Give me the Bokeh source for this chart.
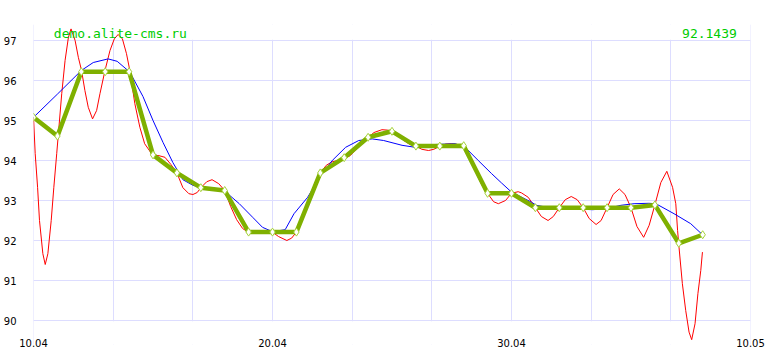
from bokeh.plotting import figure
from bokeh.models import Range1d, FixedTicker, BoxAnnotation, Label
from bokeh.embed import file_html
from bokeh.resources import INLINE

# ---- data (days counted from 10.04) ----
day = list(range(29))
price = [95.08, 94.61, 96.22, 96.22, 96.22, 94.14, 93.69, 93.32, 93.25, 92.21,
         92.21, 92.21, 93.69, 94.07, 94.58, 94.73, 94.36, 94.36, 94.37, 93.18,
         93.18, 92.82, 92.82, 92.82, 92.82, 92.82, 92.89, 91.93, 92.1439]

red_day = [0.0, 0.07, 0.17, 0.25, 0.39, 0.49, 0.6, 0.74, 0.85, 0.97, 1.04, 1.18, 1.32,
           1.46, 1.57, 1.74, 1.875, 2.01, 2.15, 2.29, 2.47, 2.64, 2.78, 2.99, 3.2, 3.38,
           3.54, 3.72, 3.89, 4.03, 4.24, 4.45, 4.65, 4.93, 5.0, 5.25, 5.5, 5.75, 6.0,
           6.25, 6.5, 6.67, 6.85, 7.0, 7.25, 7.47, 7.75, 8.0, 8.25, 8.5, 8.75, 9.0, 9.25,
           9.5, 9.75, 10.0, 10.25, 10.6, 10.8, 11.0, 11.25, 11.5, 11.75, 12.0, 12.25,
           12.5, 12.75, 13.0, 13.25, 13.5, 13.75, 14.0, 14.25, 14.58, 14.8, 15.0, 15.25,
           15.5, 15.75, 16.0, 16.25, 16.53, 16.75, 17.0, 17.25, 17.5, 17.75, 18.0, 18.25,
           18.5, 18.75, 19.0, 19.25, 19.45, 19.75, 20.0, 20.28, 20.42, 20.7, 21.0, 21.25,
           21.53, 21.75, 22.0, 22.25, 22.5, 22.75, 23.0, 23.25, 23.54, 23.75, 24.0, 24.25,
           24.51, 24.75, 25.0, 25.25, 25.53, 25.76, 26.0, 26.25, 26.5, 26.74, 26.875,
           26.95, 27.01, 27.15, 27.29, 27.43, 27.54, 27.68, 27.8, 27.92, 27.99]
red_val = [95.08, 94.17, 93.33, 92.5, 91.67, 91.4, 91.67, 92.5, 93.33, 94.17, 94.67, 95.67,
           96.5, 97.08, 97.29, 97.0, 96.58, 96.25, 95.75, 95.33, 95.04, 95.25, 95.67, 96.25,
           96.75, 97.04, 97.15, 97.04, 96.67, 96.25, 95.42, 94.83, 94.42, 94.18, 94.14,
           94.12, 94.08, 93.9, 93.69, 93.32, 93.17, 93.15, 93.2, 93.32, 93.47, 93.52, 93.42,
           93.25, 92.85, 92.52, 92.3, 92.2, 92.22, 92.25, 92.24, 92.21, 92.1, 92.0, 92.06,
           92.21, 92.55, 92.92, 93.35, 93.69, 93.88, 93.97, 94.0, 94.05, 94.12, 94.28,
           94.45, 94.58, 94.7, 94.77, 94.76, 94.73, 94.62, 94.5, 94.4, 94.36, 94.28, 94.25,
           94.28, 94.36, 94.41, 94.42, 94.4, 94.37, 94.02, 93.72, 93.4, 93.18, 92.97, 92.92,
           93.0, 93.18, 93.22, 93.19, 93.08, 92.82, 92.6, 92.5, 92.6, 92.82, 93.02, 93.1,
           93.02, 92.82, 92.55, 92.4, 92.5, 92.82, 93.15, 93.29, 93.15, 92.82, 92.35, 92.08,
           92.38, 92.89, 93.45, 93.73, 93.33, 92.92, 92.25, 91.83, 90.92, 90.25, 89.71,
           89.52, 89.92, 90.67, 91.25, 91.71]

blue_day = [0.0, 1.0, 2.0, 2.5, 3.12, 3.5, 4.03, 4.58, 5.0, 5.42, 5.83, 6.25, 6.67, 7.0,
            7.57, 8.125, 8.61, 9.17, 9.58, 10.0, 10.53, 10.9, 11.47, 12.03, 12.5, 13.06,
            13.61, 14.17, 14.65, 15.42, 15.97, 16.8, 17.64, 18.06, 18.61, 19.17, 19.58,
            20.0, 20.83, 21.04, 21.5, 22.0, 22.5, 23.0, 23.4, 24.0, 24.58, 25.13, 25.75,
            26.04, 26.8, 27.5, 28.0]
blue_val = [95.08, 95.66, 96.25, 96.45, 96.54, 96.48, 96.21, 95.6, 95.0, 94.45, 93.95,
            93.52, 93.38, 93.33, 93.31, 93.17, 92.92, 92.58, 92.33, 92.22, 92.27, 92.67,
            93.08, 93.63, 94.0, 94.33, 94.5, 94.54, 94.5, 94.38, 94.33, 94.4, 94.42, 94.33,
            94.0, 93.67, 93.44, 93.21, 92.96, 92.88, 92.83, 92.82, 92.8, 92.78, 92.77, 92.8,
            92.88, 92.92, 92.93, 92.92, 92.67, 92.42, 92.14]

x_tick_days = [0, 10, 20, 30]
x_tick_labels = ["10.04", "20.04", "30.04", "10.05"]
x_grid_days = [i * 30 / 9 for i in range(10)]
y_ticks = [90, 91, 92, 93, 94, 95, 96, 97]
site = "demo.alite-cms.ru"

GRID = "#ddddff"

p = figure(width=780, height=360,
           x_range=Range1d(-0.001, 30.001), y_range=Range1d(89.4, 97.4),
           output_backend="svg", toolbar_location=None,
           min_border_left=30, min_border_right=30,
           min_border_top=24, min_border_bottom=16,
           background_fill_color="white", border_fill_color="white",
           outline_line_color=None)

for ax in (p.xaxis[0], p.yaxis[0]):
    ax.axis_line_color = None
    ax.major_tick_line_color = None
    ax.minor_tick_line_color = None
    ax.major_tick_out = 0
    ax.major_tick_in = 0
    ax.minor_tick_out = 0
    ax.minor_tick_in = 0
    ax.major_label_text_font = "DejaVu Sans"
    ax.major_label_text_font_size = "10px"
    ax.major_label_text_color = "black"

p.xaxis.ticker = FixedTicker(ticks=x_tick_days)
p.xaxis.major_label_overrides = {d: lab for d, lab in zip(x_tick_days, x_tick_labels)}
p.xaxis.major_label_standoff = -6
p.yaxis.ticker = FixedTicker(ticks=y_ticks)
p.yaxis.major_label_standoff = 17

p.xgrid.ticker = FixedTicker(ticks=x_grid_days)
p.ygrid.ticker = FixedTicker(ticks=y_ticks)
for g in (p.xgrid[0], p.ygrid[0]):
    g.grid_line_color = GRID
    g.grid_line_width = 1

# hide grid outside the 90..97 band
p.add_layout(BoxAnnotation(bottom=97.02, fill_color="white", fill_alpha=1,
                           line_color=None, level="underlay"))
p.add_layout(BoxAnnotation(top=89.98, fill_color="white", fill_alpha=1,
                           line_color=None, level="underlay"))

p.line(red_day, red_val, line_color="#ff0000", line_width=1)
p.line(blue_day, blue_val, line_color="#0000ff", line_width=1)
p.line(day, price, line_color="#7fb000", line_width=4.5)
p.scatter(day, price, marker="diamond", size=8, line_color="#a6d33c",
          fill_color="white", line_width=1)

p.add_layout(Label(x=0.85, y=97.175, text=site, text_font="DejaVu Sans Mono",
                   text_font_size="13px", text_color="#00cc00",
                   text_baseline="alphabetic", text_align="left"))
p.add_layout(Label(x=29.43, y=97.175, text=f"{price[-1]:.4f}", text_font="DejaVu Sans Mono",
                   text_font_size="13px", text_color="#00cc00",
                   text_baseline="alphabetic", text_align="right"))

open("out.html", "w").write(file_html(p, INLINE))
